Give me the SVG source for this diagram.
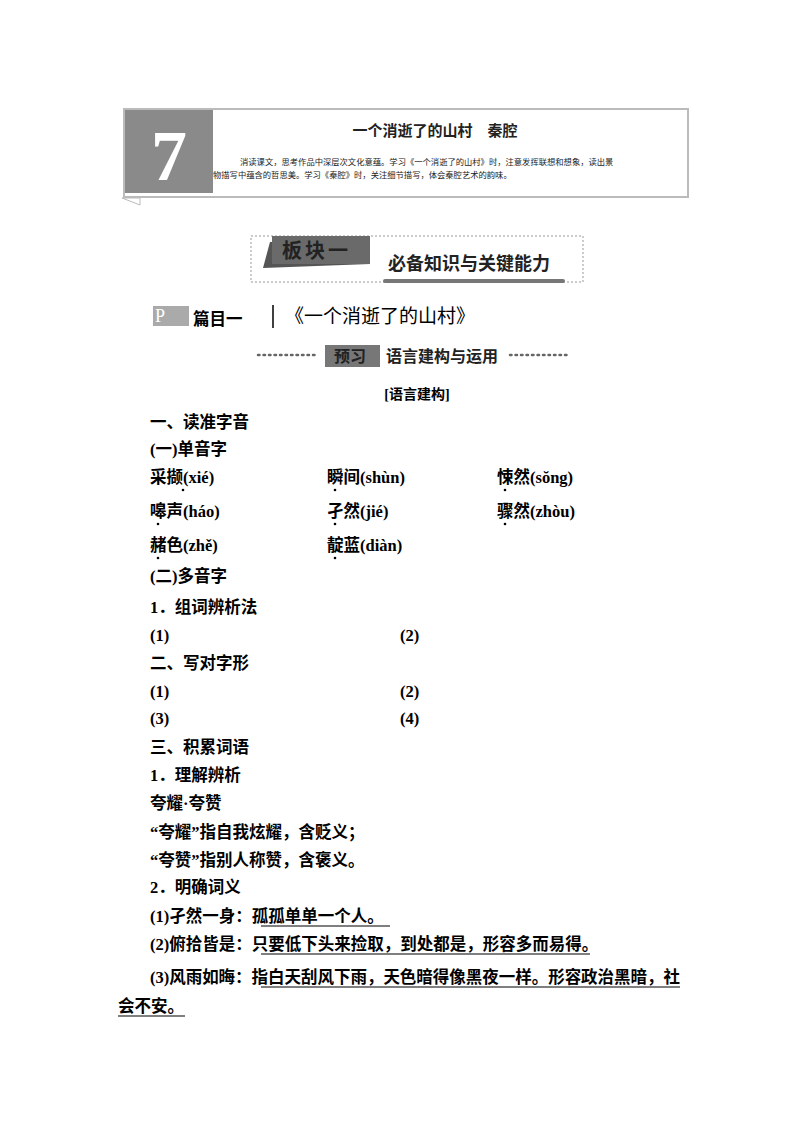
<svg xmlns="http://www.w3.org/2000/svg" width="800" height="1132" viewBox="0 0 800 1132">
<style>
.b{font-family:"Liberation Serif","Noto Sans CJK SC",serif;font-weight:bold;font-size:16.5px;fill:#000}
.s{font-family:"Noto Sans CJK SC",sans-serif;fill:#222}
.u{stroke:#000;stroke-width:1.2}
.dt{fill:#000}
</style>
<rect width="800" height="1132" fill="#fff"/>
<g id="header">
<rect x="124" y="109" width="564" height="88" fill="#fff" stroke="#bbb" stroke-width="2"/>
<rect x="125" y="110" width="88" height="83" fill="#8a8a8a"/>
<text x="169" y="180" text-anchor="middle" font-family="Liberation Serif,serif" font-weight="bold" font-size="72" fill="#fff">7</text>
<text x="435" y="136" text-anchor="middle" class="s" font-size="15" font-weight="bold">一个消逝了的山村　秦腔</text>
<text x="240" y="165" class="s" font-size="8.3">消读课文，思考作品中深层次文化意蕴。学习《一个消逝了的山村》时，注意发挥联想和想象，读出景</text>
<text x="213" y="178" class="s" font-size="8.3">物描写中蕴含的哲思美。学习《秦腔》时，关注细节描写，体会秦腔艺术的韵味。</text>
<path d="M122 198 L140 198 L140 205 Z" fill="none" stroke="#bbb"/>
</g>
<g id="banner">
<rect x="251" y="236" width="332" height="46" fill="none" stroke="#999" stroke-dasharray="2,2"/>
<path d="M263 268 L270 242 L370 236 L370 264 Z" fill="#555"/>
<rect x="272" y="236" width="98" height="28" fill="#6a6a6a"/>
<text x="282" y="258" class="s" font-size="20" font-weight="bold" fill="#fff" letter-spacing="3">板块一</text>
<text x="388" y="270" class="s" font-size="18" font-weight="bold" fill="#000">必备知识与关键能力</text>
<rect x="383" y="279" width="182" height="4" rx="2" fill="#777"/>
</g>
<g id="title">
<rect x="153" y="306" width="36" height="20" fill="#aaa"/>
<text x="155" y="322" font-family="Liberation Serif,serif" font-size="18" fill="#fff">P</text>
<text x="193" y="325" class="b" font-size="20">篇目一</text>
<line x1="273" y1="305" x2="273" y2="328" stroke="#000" stroke-width="1.5"/>
<text x="285" y="323" font-family="Liberation Serif,'Noto Sans CJK SC',serif" font-size="19">《一个消逝了的山村》</text>
</g>
<g id="preview">
<line x1="258" y1="355" x2="318" y2="355" stroke="#666" stroke-width="2.5" stroke-dasharray="1.5,4" stroke-linecap="round"/>
<rect x="325" y="345" width="55" height="22" fill="#777"/>
<text x="334" y="362" class="s" font-size="16" font-weight="bold" fill="#fff">预习</text>
<text x="386" y="362" class="s" font-size="16" font-weight="bold" fill="#000">语言建构与运用</text>
<line x1="510" y1="355" x2="570" y2="355" stroke="#666" stroke-width="2.5" stroke-dasharray="1.5,4" stroke-linecap="round"/>
</g>
<g id="body" class="b">
<text x="417" y="399" text-anchor="middle" font-size="14">[语言建构]</text>
<text x="150" y="428">一、读准字音</text>
<text x="150" y="455">(一)单音字</text>
<text x="150" y="483">采撷(xié)</text><text x="327" y="483">瞬间(shùn)</text><text x="497" y="483">悚然(sŏng)</text>
<text x="150" y="517">嗥声(háo)</text><text x="327" y="517">孑然(jié)</text><text x="497" y="517">骤然(zhòu)</text>
<text x="150" y="551">赭色(zhě)</text><text x="327" y="551">靛蓝(diàn)</text>
<text x="150" y="582">(二)多音字</text>
<text x="150" y="613">1．组词辨析法</text>
<text x="150" y="641">(1)</text><text x="400" y="641">(2)</text>
<text x="150" y="669">二、写对字形</text>
<text x="150" y="697">(1)</text><text x="400" y="697">(2)</text>
<text x="150" y="724">(3)</text><text x="400" y="724">(4)</text>
<text x="150" y="753">三、积累词语</text>
<text x="150" y="781">1．理解辨析</text>
<text x="150" y="809">夸耀·夸赞</text>
<text x="150" y="838">“夸耀”指自我炫耀，含贬义；</text>
<text x="150" y="866">“夸赞”指别人称赞，含褒义。</text>
<text x="150" y="893">2．明确词义</text>
<text x="150" y="922">(1)孑然一身：孤孤单单一个人。</text>
<text x="150" y="950">(2)俯拾皆是：只要低下头来捡取，到处都是，形容多而易得。</text>
<text x="150" y="983" textLength="530">(3)风雨如晦：指白天刮风下雨，天色暗得像黑夜一样。形容政治黑暗，社</text>
<text x="118" y="1012">会不安。</text>
</g>
<g id="marks">
<circle class="dt" cx="183" cy="490" r="1.3"/><circle class="dt" cx="335" cy="490" r="1.3"/><circle class="dt" cx="505" cy="490" r="1.3"/>
<circle class="dt" cx="158" cy="524" r="1.3"/><circle class="dt" cx="335" cy="524" r="1.3"/><circle class="dt" cx="505" cy="524" r="1.3"/>
<circle class="dt" cx="158" cy="558" r="1.3"/><circle class="dt" cx="335" cy="558" r="1.3"/>
<line class="u" x1="261" y1="926" x2="390" y2="926"/>
<line class="u" x1="261" y1="954" x2="590" y2="954"/>
<line class="u" x1="261" y1="987" x2="680" y2="987"/>
<line class="u" x1="118" y1="1016" x2="185" y2="1016"/>
</g>
</svg>
